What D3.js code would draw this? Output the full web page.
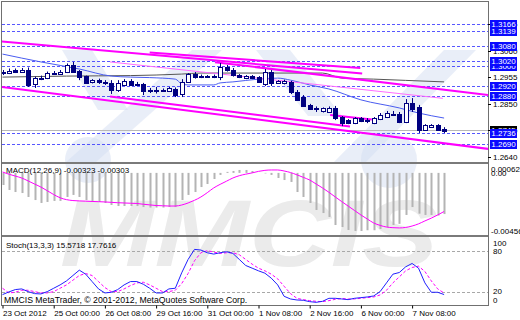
<!DOCTYPE html>
<html><head><meta charset="utf-8">
<title>EURUSD H4</title>
<style>
  body { margin: 0; background: #fff; }
  svg text { font-family: "Liberation Sans", Arial, sans-serif; font-size: 8px; fill: #000; }
</style>
<script src="https://d3js.org/d3.v7.min.js"></script>
</head><body>
<svg id="chart" width="520" height="320"></svg>
<script>
// ---- data (H4 candles) ----
var timeLabels = ["23 Oct 2012", "25 Oct 00:00", "26 Oct 08:00", "29 Oct 16:00", "31 Oct 00:00",
                  "1 Nov 08:00", "2 Nov 16:00", "6 Nov 00:00", "7 Nov 08:00"];
var labelIdx = [0, 8, 16, 24, 32, 40, 48, 56, 64];

var open = [1.2972,1.2976,1.2984,1.2978,1.2984,1.2929,1.2952,1.2952,1.2972,1.2972,
            1.2976,1.3004,1.2980,1.2960,1.2935,1.2944,1.2937,1.2933,1.2905,1.2925,
            1.2941,1.2927,1.2929,1.2903,1.2905,1.2903,1.2901,1.2909,1.2889,1.2937,
            1.2968,1.2958,1.2960,1.2958,1.2956,1.2996,1.2986,1.2964,1.2952,1.2960,
            1.2956,1.2929,1.2976,1.2933,1.2933,1.2937,1.2899,1.2877,1.2846,1.2830,
            1.2820,1.2820,1.2834,1.2798,1.2786,1.2774,1.2794,1.2786,1.2774,1.2790,
            1.2798,1.2810,1.2810,1.2778,1.2853,1.2838,1.2747,1.2758,1.2766,1.2751];
var high = [1.2984,1.2990,1.2990,1.2992,1.2994,1.2958,1.2962,1.2978,1.2980,1.2984,
            1.3010,1.3016,1.2984,1.2962,1.2948,1.2950,1.2944,1.2944,1.2944,1.2948,
            1.2948,1.2937,1.2933,1.2913,1.2917,1.2911,1.2917,1.2915,1.2948,1.2972,
            1.2976,1.2966,1.2964,1.2966,1.3012,1.3004,1.2992,1.2968,1.2964,1.2964,
            1.2960,1.2988,1.2984,1.2944,1.2946,1.2941,1.2905,1.2885,1.2850,1.2840,
            1.2836,1.2840,1.2842,1.2802,1.2790,1.2798,1.2798,1.2794,1.2798,1.2814,
            1.2822,1.2822,1.2818,1.2869,1.2873,1.2846,1.2770,1.2770,1.2770,1.2758];
var low  = [1.2964,1.2968,1.2972,1.2974,1.2917,1.2913,1.2944,1.2948,1.2966,1.2968,
            1.2972,1.2974,1.2944,1.2929,1.2931,1.2929,1.2925,1.2889,1.2897,1.2921,
            1.2921,1.2921,1.2885,1.2893,1.2891,1.2897,1.2897,1.2877,1.2877,1.2933,
            1.2950,1.2952,1.2954,1.2952,1.2944,1.2978,1.2958,1.2952,1.2948,1.2948,
            1.2933,1.2921,1.2921,1.2929,1.2927,1.2889,1.2865,1.2838,1.2826,1.2818,
            1.2816,1.2816,1.2786,1.2762,1.2770,1.2770,1.2778,1.2774,1.2770,1.2786,
            1.2794,1.2802,1.2774,1.2774,1.2818,1.2735,1.2743,1.2755,1.2743,1.2735];
var close = [1.2976,1.2982,1.2978,1.2986,1.2925,1.2952,1.2954,1.2972,1.2974,1.2978,
            1.3004,1.2978,1.2956,1.2933,1.2944,1.2937,1.2935,1.2905,1.2933,1.2941,
            1.2925,1.2929,1.2901,1.2905,1.2903,1.2905,1.2913,1.2887,1.2937,1.2968,
            1.2956,1.2960,1.2958,1.2960,1.2996,1.2984,1.2968,1.2958,1.2960,1.2952,
            1.2937,1.2976,1.2933,1.2941,1.2941,1.2897,1.2869,1.2842,1.2830,1.2832,
            1.2832,1.2834,1.2794,1.2774,1.2774,1.2794,1.2782,1.2784,1.2794,1.2806,
            1.2814,1.2812,1.2778,1.2853,1.2830,1.2747,1.2766,1.2766,1.2747,1.2745];

// moving averages, [candle index, price]
var maBlue = [[0,1.3047],[6,1.3016],[12,1.2988],[17,1.2960],[20,1.2956],[23,1.2954],[27,1.2948],
              [28,1.2929],[29,1.2925],[33,1.2925],[34,1.2933],[36,1.2937],[40,1.2948],[43,1.2952],
              [45,1.2944],[48,1.2925],[51,1.2909],[56,1.2866],[62,1.2834],[65,1.2814],[69,1.2794]];
var maGray = [[0,1.2956],[10,1.2960],[20,1.2962],[28,1.2968],[31,1.2972],[50,1.2972],[53,1.2952],
              [58,1.2948],[63,1.2943],[69,1.2937]];

// trend lines: [i1, p1, i2, p2]
var trendThick = [[-0.1,1.3097,56.2,1.2970],[23.0,1.3053,55.9,1.2992],[33.2,1.3015,75.9,1.2885],
                  [-0.1,1.2917,75.9,1.2672],[16.8,1.2879,54.3,1.2761],[51.2,1.2806,57.7,1.2788]];
var trendThin = [[16.8,1.3016,68.8,1.2872]];

var levels = [1.3166, 1.3139, 1.3080, 1.3020, 1.3000, 1.2920, 1.2880, 1.2736, 1.2690];
var bid = 1.2745;
var priceTicks = [1.2640, 1.2745, 1.2850, 1.2955, 1.3060, 1.3165];

var macdMain = [-0.00095,-0.00134,-0.00150,-0.00158,-0.00189,-0.00213,-0.00236,-0.00228,-0.00220,-0.00220,
                -0.00189,-0.00173,-0.00189,-0.00213,-0.00228,-0.00228,-0.00236,-0.00252,-0.00260,-0.00260,
                -0.00260,-0.00260,-0.00268,-0.00272,-0.00272,-0.00272,-0.00268,-0.00268,-0.00213,-0.00173,
                -0.00150,-0.00111,-0.00087,-0.00048,-0.00016,0.00008,0.00015,0.00023,0.00023,0.00015,
                0.00000,-0.00004,-0.00016,-0.00040,-0.00056,-0.00071,-0.00150,-0.00189,-0.00236,-0.00291,
                -0.00315,-0.00346,-0.00409,-0.00425,-0.00448,-0.00456,-0.00456,-0.00450,-0.00450,-0.00440,
                -0.00425,-0.00409,-0.00400,-0.00330,-0.00268,-0.00320,-0.00330,-0.00330,-0.00335,-0.00323];
var macdSignal = [0.00007,-0.00010,-0.00025,-0.00040,-0.00063,-0.00087,-0.00111,-0.00140,-0.00170,-0.00195,
                -0.00210,-0.00217,-0.00220,-0.00222,-0.00224,-0.00226,-0.00228,-0.00231,-0.00234,-0.00236,
                -0.00238,-0.00240,-0.00246,-0.00251,-0.00256,-0.00258,-0.00260,-0.00260,-0.00252,-0.00236,
                -0.00215,-0.00189,-0.00155,-0.00118,-0.00090,-0.00065,-0.00040,-0.00022,-0.00010,0.00000,
                0.00012,0.00020,0.00023,0.00023,0.00015,0.00003,-0.00015,-0.00035,-0.00056,-0.00087,
                -0.00118,-0.00152,-0.00189,-0.00225,-0.00260,-0.00295,-0.00330,-0.00362,-0.00393,-0.00412,
                -0.00425,-0.00430,-0.00432,-0.00428,-0.00417,-0.00400,-0.00377,-0.00355,-0.00330,-0.00303];

var stochMain = [15.5,19.5,23,24,20,17,16.5,20,25,30, 36,44,52,46,35,24,18,19,23,30,
                 35,35,31,25,18,18,24,25,48,68, 83,82,78,76,78,79.5,77,68,59,55,
                 51,47.5,40,30,13,9,7.5,7,5,4, 5.5,10,10,9,8,10,11,12,13.5,20,
                 33,46,48.5,57,62,55,33,19,19,15.6];
var stochSignal = [25,18,19,22,22,20,18,18,20,25, 30,37,44,47,44,35,26,20,20,24,
                 29,33,34,30,25,20,20,22,32,47, 66,78,81,79,77,78,78,75,68,61,
                 55,51,46,39,28,17,10,8,6.5,5.5, 5,6.5,8.5,9.7,9,9,10,11,12,15,
                 22,33,42,51,56,58,50,36,24,17.8];

// ---- scales ----
var x = d3.scaleLinear().domain([0, 69]).range([2.5, 444.1]);
var y = d3.scaleLinear().domain([1.2640, 1.3166]).range([157, 24]);
var yM = d3.scaleLinear().domain([-0.00456, 0.00062]).range([231, 165]);
var yS = d3.scaleLinear().domain([0, 100]).range([305, 238]);

var svg = d3.select("#chart");
svg.append("rect").attr("width", 520).attr("height", 320).attr("fill", "#fff");

var defs = svg.append("defs");
function clip(id, y0, y1) {
  defs.append("clipPath").attr("id", id).append("rect")
    .attr("x", 2).attr("y", y0).attr("width", 486).attr("height", y1 - y0);
}
clip("cMain", 2, 162); clip("cMacd", 164, 235); clip("cStoch", 237, 305); clip("cAll", 2, 305);

// ---- watermark ----
var wm = svg.append("g").attr("clip-path", "url(#cAll)");
var blueShapes = [
  [[62,50],[92,50],[128,110],[98,110]],
  [[66,162],[96,162],[222,50],[192,50]],
  [[256,50],[290,50],[342,116],[308,116]],
  [[334,162],[366,162],[476,50],[444,50]]
];
wm.selectAll("polygon").data(blueShapes).enter().append("polygon")
  .attr("points", function(d) { return d.join(" "); })
  .attr("fill", "#d3def2").attr("opacity", 0.5);
wm.append("circle").attr("cx", 88).attr("cy", 160).attr("r", 23).attr("fill", "#d3def2").attr("opacity", 0.5);
wm.append("circle").attr("cx", 389).attr("cy", 160).attr("r", 28).attr("fill", "#d3def2").attr("opacity", 0.5);
wm.append("text").text("MMCIS")
  .attr("x", 60).attr("y", 266)
  .attr("textLength", 378).attr("lengthAdjust", "spacingAndGlyphs")
  .style("font-size", "94px").style("font-weight", "bold").style("font-style", "italic")
  .style("fill", "#ebebeb");

// ---- main panel ----
var main = svg.append("g").attr("clip-path", "url(#cMain)");

main.selectAll(".lvl").data(levels).enter().append("line")
  .attr("x1", 2).attr("x2", 488)
  .attr("y1", function(d) { return Math.round(y(d)) + 0.5; })
  .attr("y2", function(d) { return Math.round(y(d)) + 0.5; })
  .attr("stroke", "#3a3aff").attr("stroke-dasharray", "3,2").attr("opacity", 0.85);

main.append("line").attr("x1", 2).attr("x2", 488)
  .attr("y1", Math.round(y(bid)) + 0.5).attr("y2", Math.round(y(bid)) + 0.5)
  .attr("stroke", "#b8b8b8");

var maLine = d3.line().x(function(d) { return x(d[0]); }).y(function(d) { return y(d[1]); })
  .curve(d3.curveMonotoneX);
main.append("path").attr("d", maLine(maGray)).attr("fill", "none").attr("stroke", "#555");
main.append("path").attr("d", maLine(maBlue)).attr("fill", "none").attr("stroke", "#4a5cf0");

main.selectAll(".tt").data(trendThick).enter().append("line")
  .attr("x1", function(d) { return x(d[0]); }).attr("y1", function(d) { return y(d[1]); })
  .attr("x2", function(d) { return x(d[2]); }).attr("y2", function(d) { return y(d[3]); })
  .attr("stroke", "#ff00ff").attr("stroke-width", 2);
main.selectAll(".tn").data(trendThin).enter().append("line")
  .attr("x1", function(d) { return x(d[0]); }).attr("y1", function(d) { return y(d[1]); })
  .attr("x2", function(d) { return x(d[2]); }).attr("y2", function(d) { return y(d[3]); })
  .attr("stroke", "#ff6cff").attr("stroke-width", 1);

// candles
var candles = d3.range(open.length);
var cg = main.selectAll(".candle").data(candles).enter().append("g");
cg.append("line")
  .attr("x1", function(i) { return Math.round(x(i)) + 0.5; })
  .attr("x2", function(i) { return Math.round(x(i)) + 0.5; })
  .attr("y1", function(i) { return y(high[i]); })
  .attr("y2", function(i) { return y(low[i]); })
  .attr("stroke", "#000080");
cg.append("rect")
  .attr("x", function(i) { return Math.round(x(i)) - 1.5; })
  .attr("width", 4)
  .attr("y", function(i) { return Math.round(y(Math.max(open[i], close[i]))) + 0.5; })
  .attr("height", function(i) { return Math.max(0.5, Math.round(Math.abs(y(open[i]) - y(close[i])))); })
  .attr("fill", function(i) { return close[i] >= open[i] ? "#fff" : "#000080"; })
  .attr("stroke", "#000080");

// ---- MACD panel ----
var macd = svg.append("g").attr("clip-path", "url(#cMacd)");
macd.selectAll("rect").data(macdMain).enter().append("rect")
  .attr("x", function(d, i) { return Math.round(x(i)) - 0.5; })
  .attr("width", 2)
  .attr("y", function(d) { return Math.min(yM(0), yM(d)); })
  .attr("height", function(d) { return Math.abs(yM(d) - yM(0)); })
  .attr("fill", "#b4b4b4");
macd.append("path")
  .attr("d", d3.line().x(function(d, i) { return x(i); }).y(function(d) { return yM(d); }).curve(d3.curveMonotoneX)(macdSignal))
  .attr("fill", "none").attr("stroke", "#ff00ff");
svg.append("text").attr("x", 6).attr("y", 173).text("MACD(12,26,9) -0.00323 -0.00303");

// ---- Stochastic panel ----
var st = svg.append("g").attr("clip-path", "url(#cStoch)");
[80, 20].forEach(function(v) {
  st.append("line").attr("x1", 2).attr("x2", 488)
    .attr("y1", Math.round(yS(v)) + 0.5).attr("y2", Math.round(yS(v)) + 0.5)
    .attr("stroke", "#a8a8a8").attr("stroke-dasharray", "3,2");
});
var sLine = d3.line().x(function(d, i) { return x(i); }).y(function(d) { return yS(d); });
st.append("path").attr("d", sLine(stochSignal)).attr("fill", "none")
  .attr("stroke", "#ff00ff").attr("stroke-dasharray", "3,2");
st.append("path").attr("d", sLine(stochMain)).attr("fill", "none").attr("stroke", "#2020ff");
svg.append("text").attr("x", 6).attr("y", 248).text("Stoch(13,3,3) 15.5718 17.7616");
svg.append("text").attr("x", 4).attr("y", 303).style("font-size", "8.7px")
  .text("MMCIS MetaTrader, \u00a9 2001-2012, MetaQuotes Software Corp.");

// ---- frame ----
svg.append("rect").attr("x", 1.5).attr("y", 1.5).attr("width", 487).attr("height", 304)
  .attr("fill", "none").attr("stroke", "#707070");
[163, 236].forEach(function(v) {
  svg.append("line").attr("x1", 2).attr("x2", 488).attr("y1", v).attr("y2", v)
    .attr("stroke", "#7a7a7a").attr("stroke-width", 2);
});

// ---- time axis ----
var xAxis = d3.axisBottom(x).tickValues(labelIdx)
  .tickFormat(function(d, i) { return timeLabels[i]; }).tickSize(3);
var ax = svg.append("g").attr("transform", "translate(0,305.5)").call(xAxis);
ax.select(".domain").remove();
ax.selectAll("line").attr("stroke", "#000");
ax.selectAll("text").attr("text-anchor", "start").attr("dx", "0px").attr("y", 5)
  .style("font-family", "Liberation Sans, Arial, sans-serif").style("font-size", "8px");

// ---- right scales ----
var right = svg.append("g");
priceTicks.forEach(function(p) {
  right.append("line").attr("x1", 488).attr("x2", 491)
    .attr("y1", Math.round(y(p)) + 0.5).attr("y2", Math.round(y(p)) + 0.5).attr("stroke", "#000");
  right.append("text").attr("x", 493).attr("y", y(p)).attr("dy", "0.35em").text(p.toFixed(4));
});

function priceBox(p, fill) {
  var cy = Math.round(y(p));
  right.append("rect").attr("x", 490).attr("y", cy - 4).attr("width", 27).attr("height", 9).attr("fill", fill);
  right.append("text").attr("x", 503.5).attr("y", cy + 0.5).attr("dy", "0.35em")
    .attr("text-anchor", "middle").style("fill", "#fff").text(p.toFixed(4));
}
priceBox(bid, "#000");
levels.slice().sort(d3.ascending).forEach(function(p) { priceBox(p, "#0a0aff"); });

right.append("text").attr("x", 491).attr("y", yM(0.00062) + 4).attr("dy", "0.35em").text("0.00062");
right.append("text").attr("x", 491).attr("y", yM(0)).attr("dy", "0.35em").text("0.00");
right.append("text").attr("x", 491).attr("y", yM(-0.00456)).attr("dy", "0.35em").text("-0.00456");

[[100, 5], [80, 0], [20, 0], [0, -5]].forEach(function(d) {
  right.append("text").attr("x", 493).attr("y", yS(d[0]) + d[1]).attr("dy", "0.35em").text(d[0]);
});
</script>
</body></html>
